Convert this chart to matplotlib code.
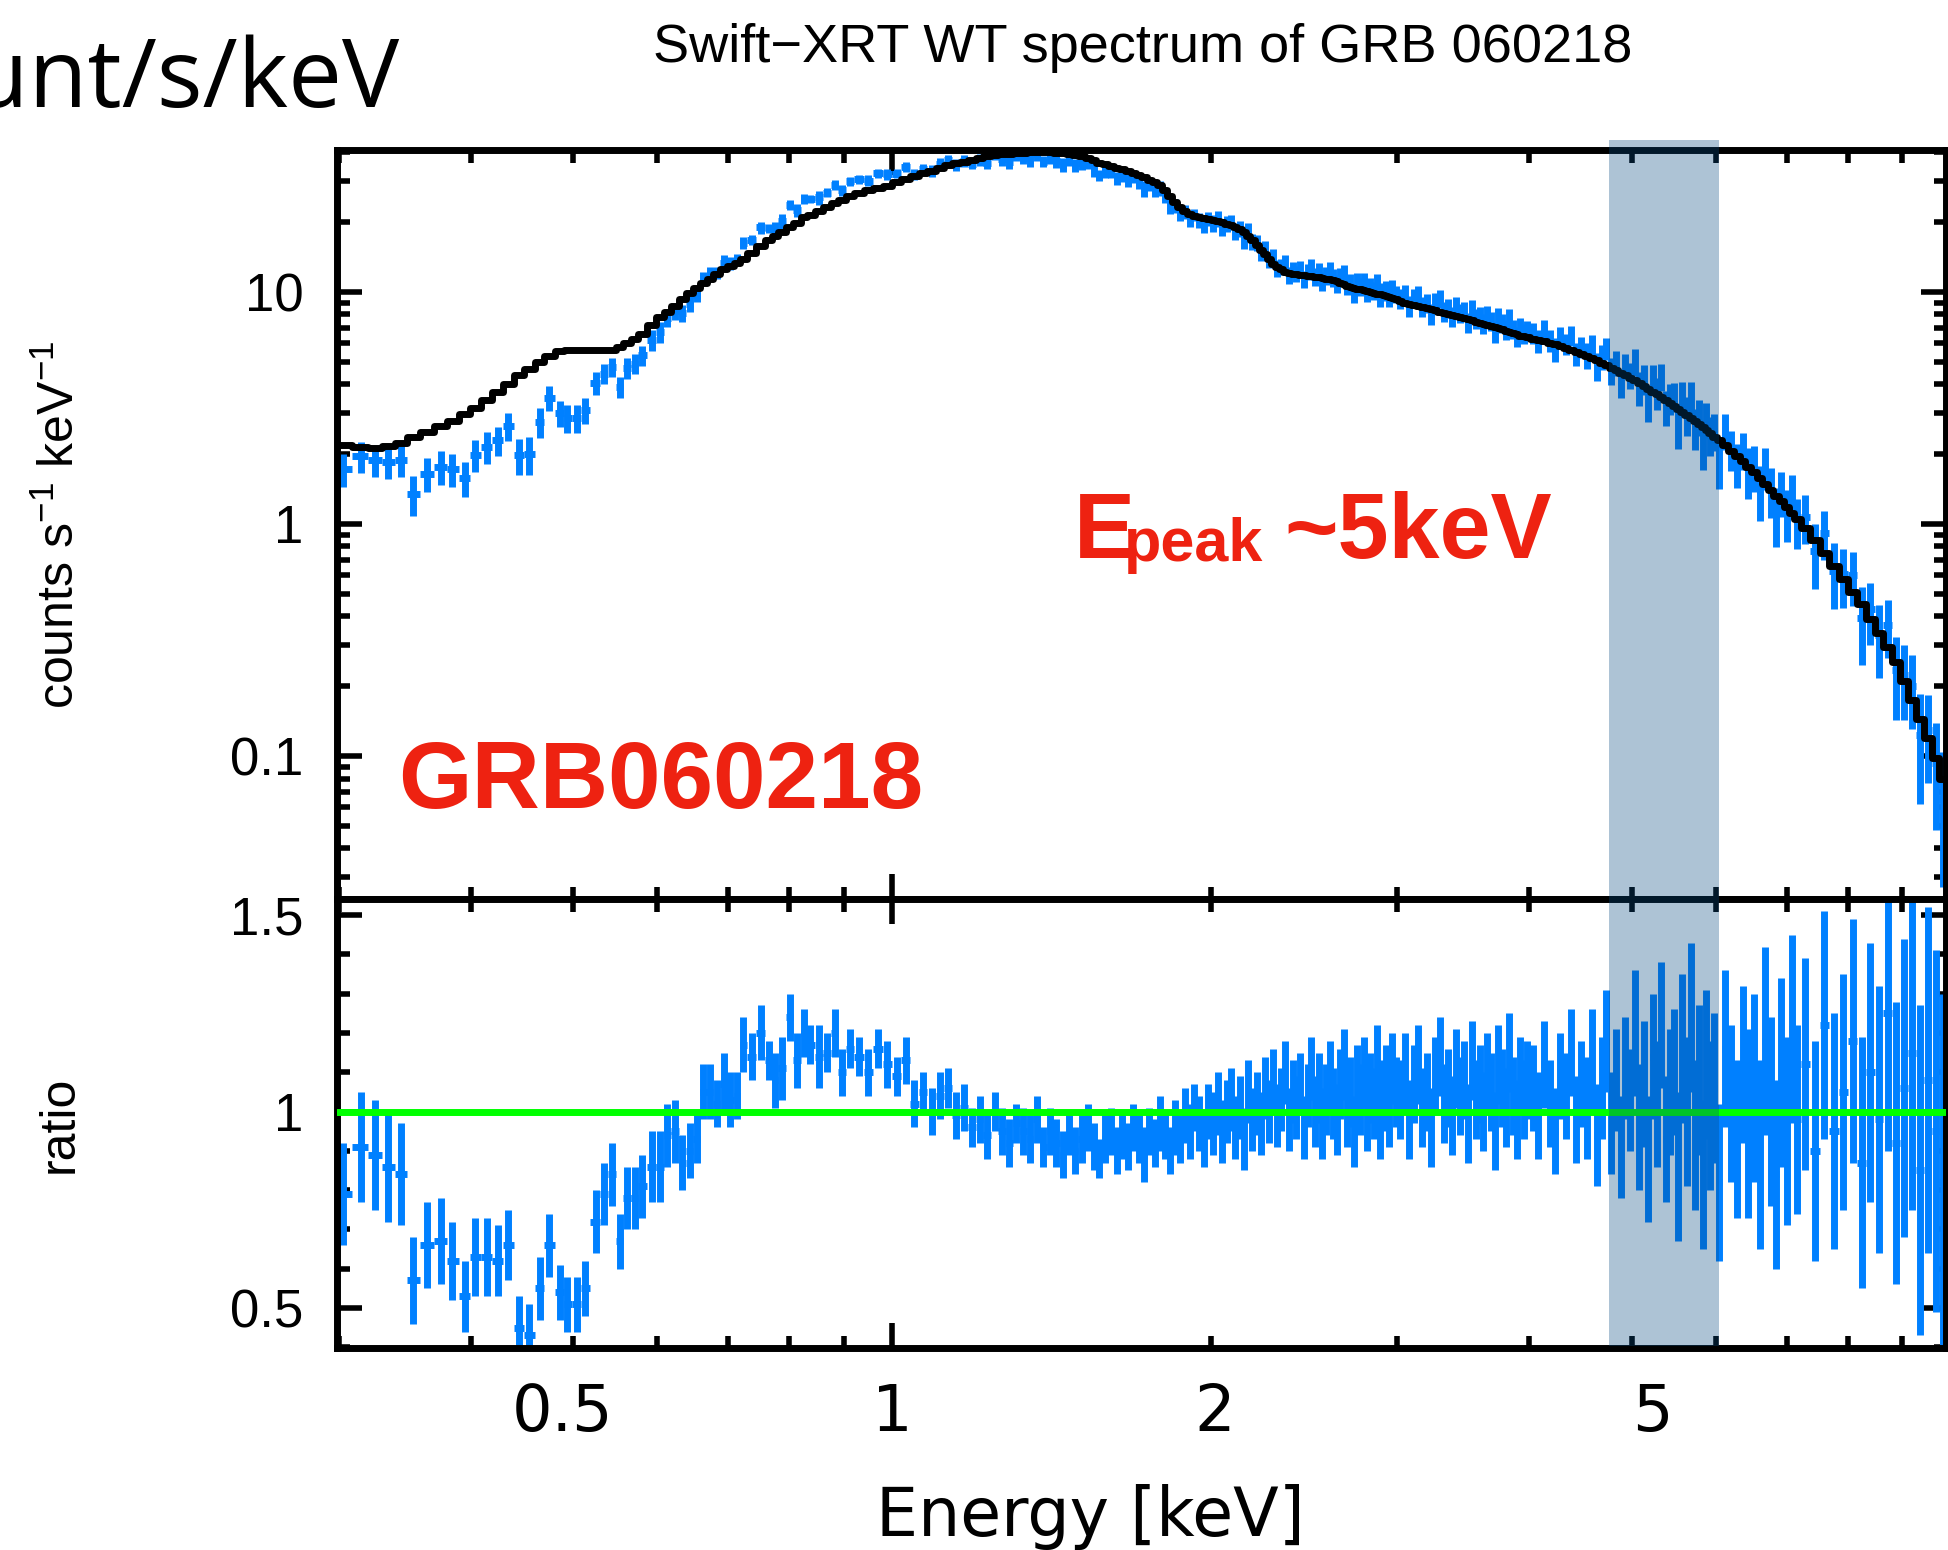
import numpy as np
import matplotlib
matplotlib.use("Agg")
import matplotlib.pyplot as plt
from matplotlib.ticker import FixedLocator, FixedFormatter, MultipleLocator, NullFormatter
from matplotlib.patches import Rectangle
from matplotlib.transforms import blended_transform_factory

plt.rcParams['font.family'] = ['Liberation Sans', 'DejaVu Sans']
plt.rcParams['mathtext.fontset'] = 'custom'
plt.rcParams['mathtext.rm'] = 'Liberation Sans'
plt.rcParams['mathtext.it'] = 'Liberation Sans:italic'
plt.rcParams['mathtext.bf'] = 'Liberation Sans:bold'

# ---------------- data ----------------
energy_kev = [
    # 0.3 - 0.92 keV
    0.303, 0.315, 0.325, 0.334, 0.344, 0.353, 0.364, 0.375, 0.384, 0.395,
    0.404, 0.414, 0.424, 0.434, 0.444, 0.454, 0.465, 0.474, 0.486, 0.493,
    0.504, 0.513, 0.525, 0.534, 0.544, 0.553, 0.562, 0.572, 0.580, 0.593,
    0.604, 0.613, 0.624, 0.633, 0.644, 0.654, 0.663, 0.673, 0.683, 0.694,
    0.703, 0.714, 0.723, 0.737, 0.752, 0.765, 0.775, 0.787, 0.801, 0.813,
    0.826, 0.837, 0.853, 0.868, 0.883, 0.897, 0.913,
    # 0.93 - 2 keV
    0.93, 0.95, 0.97, 0.99, 1.01, 1.03, 1.05, 1.07, 1.09, 1.11,
    1.13, 1.15, 1.17, 1.19, 1.21, 1.23, 1.25, 1.27, 1.29, 1.31,
    1.33, 1.35, 1.37, 1.39, 1.41, 1.43, 1.45, 1.47, 1.49, 1.51,
    1.53, 1.55, 1.57, 1.59, 1.61, 1.63, 1.65, 1.67, 1.69, 1.71,
    1.73, 1.75, 1.77, 1.79, 1.81, 1.83, 1.85, 1.87, 1.89, 1.91,
    1.93, 1.95, 1.97, 1.99,
    # 2 - 3 keV
    2.01, 2.03, 2.05, 2.07, 2.09, 2.11, 2.13, 2.15, 2.17, 2.19,
    2.21, 2.23, 2.25, 2.27, 2.29, 2.31, 2.33, 2.35, 2.37, 2.39,
    2.41, 2.43, 2.45, 2.47, 2.49, 2.51, 2.53, 2.55, 2.57, 2.59,
    2.61, 2.63, 2.65, 2.67, 2.69, 2.71, 2.73, 2.75, 2.77, 2.79,
    2.81, 2.83, 2.85, 2.87, 2.89, 2.91, 2.93, 2.95, 2.97, 2.99,
    # 3 - 4 keV
    3.02, 3.05, 3.08, 3.11, 3.14, 3.17, 3.20, 3.23, 3.26, 3.29,
    3.32, 3.35, 3.38, 3.41, 3.44, 3.47, 3.50, 3.53, 3.56, 3.59,
    3.62, 3.65, 3.68, 3.71, 3.74, 3.77, 3.80, 3.83, 3.86, 3.89,
    3.92, 3.95, 3.98,
    # 4 - 6 keV
    4.03, 4.08, 4.13, 4.18, 4.23, 4.28, 4.33, 4.38, 4.43, 4.48,
    4.53, 4.58, 4.63, 4.68, 4.73, 4.78, 4.83, 4.88, 4.93, 4.98,
    5.03, 5.08, 5.13, 5.18, 5.23, 5.28, 5.33, 5.38, 5.43, 5.48,
    5.53, 5.58, 5.63, 5.68, 5.73, 5.78, 5.83, 5.88, 5.93, 5.98,
    # 6 - 10 keV
    6.04, 6.12, 6.20, 6.28, 6.36, 6.44, 6.52, 6.60, 6.68, 6.76,
    6.84, 6.92, 7.00, 7.08, 7.16,
    7.28, 7.44, 7.60, 7.76, 7.92, 8.08, 8.24, 8.40, 8.56, 8.72,
    8.88, 9.04, 9.20, 9.36, 9.52, 9.68, 9.84,
]

model_rate = [
    2.18, 2.15, 2.13, 2.16, 2.24, 2.36, 2.50, 2.64, 2.78, 2.97,
    3.16, 3.42, 3.70, 4.00, 4.40, 4.66, 5.00, 5.30, 5.55, 5.62,
    5.63, 5.63, 5.63, 5.63, 5.63, 5.80, 6.03, 6.30, 6.60, 7.20,
    7.80, 8.20, 8.70, 9.30, 9.90, 10.4, 10.9, 11.4, 11.9, 12.5,
    12.9, 13.3, 13.9, 14.7, 15.8, 16.7, 17.4, 18.2, 19.1, 19.9,
    21.0, 21.5, 22.4, 23.3, 24.2, 25.0, 25.9,
    26.8, 27.4, 28.0, 28.7, 29.7, 30.6, 31.5, 32.4, 33.3, 34.2,
    35.1, 35.8, 36.4, 37.1, 37.9, 38.4, 38.8, 39.2, 39.5, 39.8,
    39.85, 39.9, 39.95, 40.0, 40.0, 39.8, 39.6, 39.3, 39.1, 38.5,
    37.7, 36.9, 36.1, 35.5, 34.9, 34.3, 33.8, 33.2, 32.6, 31.9,
    31.2, 30.5, 29.8, 28.8, 27.4, 25.9, 24.5, 23.3, 22.4, 21.6,
    21.3, 21.0, 20.8, 20.6,
    20.4, 20.2, 20.0, 19.7, 19.4, 19.0, 18.6, 18.1, 17.5, 16.8,
    16.0, 15.2, 14.5, 13.8, 13.2, 12.8, 12.5, 12.2, 12.05, 11.95,
    11.9, 11.85, 11.8, 11.75, 11.7, 11.65, 11.55, 11.5, 11.42, 11.36,
    11.3, 11.1, 10.95, 10.8, 10.65, 10.5, 10.4, 10.3, 10.25, 10.15,
    10.08, 10.0, 9.92, 9.83, 9.75, 9.66, 9.57, 9.48, 9.4, 9.32,
    9.1, 8.96, 8.86, 8.77, 8.68, 8.59, 8.5, 8.41, 8.32, 8.2,
    8.1, 8.02, 7.94, 7.86, 7.78, 7.7, 7.62, 7.54, 7.45, 7.37,
    7.3, 7.22, 7.14, 7.06, 6.98, 6.9, 6.82, 6.74, 6.66, 6.56,
    6.49, 6.44, 6.38,
    6.29, 6.22, 6.14, 6.05, 5.96, 5.86, 5.75, 5.64, 5.53, 5.42,
    5.31, 5.2, 5.08, 4.96, 4.84, 4.71, 4.59, 4.48, 4.37, 4.26,
    4.16, 4.05, 3.94, 3.83, 3.72, 3.62, 3.53, 3.42, 3.32, 3.23,
    3.13, 3.04, 2.95, 2.87, 2.78, 2.70, 2.62, 2.53, 2.46, 2.38,
    2.29, 2.18, 2.07, 1.96, 1.86, 1.76, 1.67, 1.58, 1.49, 1.40,
    1.32, 1.25, 1.18, 1.12, 1.05,
    0.96, 0.85, 0.75, 0.66, 0.58, 0.51, 0.45, 0.39, 0.34, 0.295,
    0.255, 0.21, 0.175, 0.145, 0.12, 0.098, 0.08,
]

ratio = [
    0.79, 0.91, 0.89, 0.86, 0.84, 0.57, 0.66, 0.67, 0.62, 0.53,
    0.63, 0.63, 0.62, 0.66, 0.45, 0.43, 0.55, 0.66, 0.54, 0.51,
    0.51, 0.55, 0.72, 0.79, 0.84, 0.67, 0.78, 0.78, 0.81, 0.86,
    0.86, 0.94, 0.95, 0.87, 0.90, 0.93, 1.05, 1.05, 1.02, 1.07,
    1.03, 1.04, 1.17, 1.14, 1.20, 1.13, 1.08, 1.11, 1.24, 1.13,
    1.20, 1.17, 1.14, 1.15, 1.20, 1.10, 1.16,
    1.14, 1.10, 1.16, 1.12, 1.09, 1.13, 1.02, 1.05, 1.00, 1.04,
    1.06, 0.99, 1.01, 0.96, 0.98, 0.94, 1.00, 0.95, 0.92, 0.97,
    0.95, 0.93, 0.98, 0.91, 0.95, 0.92, 0.89, 0.94, 0.90, 0.93,
    0.96, 0.91, 0.88, 0.93, 0.95, 0.90, 0.94, 0.91, 0.96, 0.93,
    0.89, 0.95, 0.92, 0.97, 0.94, 0.90, 0.96, 0.93, 0.99, 0.95,
    1.01, 0.97, 0.93, 1.00,
    0.97, 1.02, 0.95, 1.00, 1.03, 0.96, 1.01, 0.93, 1.05, 0.98,
    1.02, 0.97, 1.06, 1.00, 1.08, 0.99, 1.03, 1.10, 0.98, 1.05,
    1.01, 1.07, 0.96, 1.04, 1.11, 1.00, 1.06, 0.97, 1.03, 1.09,
    1.02, 0.98, 1.07, 1.12, 1.00, 1.05, 0.95, 1.08, 1.03, 1.10,
    0.99, 1.06, 1.02, 1.13, 0.97, 1.04, 1.08, 1.00, 1.11, 1.05,
    1.03, 1.10, 0.98, 1.07, 1.12, 1.01, 1.05, 0.96, 1.09, 1.14,
    1.02, 1.06, 0.99, 1.11, 1.04, 1.08, 0.97, 1.13, 1.03, 1.07,
    1.00, 1.10, 1.05, 0.95, 1.12, 1.06, 1.01, 1.15, 1.04, 0.98,
    1.09, 1.03, 1.08,
    1.06, 0.99, 1.12, 1.02, 0.95, 1.09, 1.04, 1.15, 0.98, 1.07,
    1.01, 1.13, 0.94, 1.06, 1.18, 0.97, 1.08, 0.91, 1.11, 1.03,
    1.20, 0.96, 1.07, 0.88, 1.14, 1.02, 1.22, 0.93, 1.05, 1.10,
    0.86, 1.16, 1.00, 1.24, 0.94, 1.08, 0.84, 1.12, 0.99, 1.06,
    0.82, 1.16, 1.02, 0.93, 1.12, 0.97, 1.06, 0.89, 1.18, 1.00,
    0.84, 1.10, 0.95, 1.21, 0.98,
    1.12, 0.90, 1.22, 0.95, 1.05, 1.18, 0.87, 1.10, 0.98, 1.25,
    0.92, 1.06, 1.15, 0.85, 1.08, 0.95, 0.82,
]

ratio_err = [
    0.13, 0.14, 0.14, 0.14, 0.13, 0.11, 0.11, 0.11, 0.10, 0.09,
    0.10, 0.10, 0.09, 0.09, 0.08, 0.08, 0.08, 0.08, 0.07, 0.07,
    0.07, 0.07, 0.08, 0.08, 0.08, 0.07, 0.08, 0.08, 0.08, 0.09,
    0.09, 0.08, 0.08, 0.07, 0.07, 0.06, 0.07, 0.07, 0.06, 0.08,
    0.07, 0.06, 0.07, 0.06, 0.07, 0.05, 0.07, 0.08, 0.06, 0.07,
    0.06, 0.05, 0.08, 0.05, 0.06, 0.06, 0.05,
    0.05, 0.06, 0.05, 0.06, 0.05, 0.06, 0.06, 0.05, 0.06, 0.06,
    0.05, 0.06, 0.06, 0.05, 0.06, 0.06, 0.05, 0.06, 0.06, 0.05,
    0.06, 0.06, 0.06, 0.05, 0.06, 0.06, 0.06, 0.05, 0.06, 0.06,
    0.06, 0.06, 0.05, 0.06, 0.06, 0.06, 0.06, 0.06, 0.06, 0.06,
    0.07, 0.06, 0.06, 0.07, 0.06, 0.06, 0.07, 0.06, 0.07, 0.07,
    0.06, 0.07, 0.07, 0.07,
    0.08, 0.08, 0.08, 0.08, 0.08, 0.08, 0.08, 0.08, 0.08, 0.08,
    0.08, 0.08, 0.08, 0.08, 0.08, 0.08, 0.08, 0.08, 0.08, 0.08,
    0.08, 0.08, 0.08, 0.08, 0.08, 0.09, 0.09, 0.09, 0.09, 0.09,
    0.09, 0.09, 0.09, 0.09, 0.09, 0.09, 0.09, 0.09, 0.09, 0.09,
    0.09, 0.09, 0.09, 0.09, 0.09, 0.09, 0.09, 0.09, 0.09, 0.09,
    0.10, 0.10, 0.10, 0.10, 0.10, 0.10, 0.10, 0.10, 0.10, 0.10,
    0.10, 0.10, 0.10, 0.10, 0.10, 0.10, 0.10, 0.10, 0.10, 0.10,
    0.10, 0.10, 0.10, 0.10, 0.10, 0.10, 0.10, 0.10, 0.10, 0.10,
    0.10, 0.10, 0.10,
    0.11, 0.11, 0.11, 0.11, 0.11, 0.11, 0.11, 0.11, 0.11, 0.11,
    0.13, 0.13, 0.13, 0.13, 0.13, 0.13, 0.13, 0.13, 0.13, 0.13,
    0.16, 0.16, 0.16, 0.16, 0.16, 0.16, 0.16, 0.16, 0.16, 0.16,
    0.19, 0.19, 0.19, 0.19, 0.19, 0.19, 0.19, 0.19, 0.19, 0.19,
    0.20, 0.20, 0.20, 0.20, 0.20, 0.24, 0.24, 0.24, 0.24, 0.24,
    0.24, 0.24, 0.24, 0.24, 0.24,
    0.27, 0.28, 0.29, 0.30, 0.30, 0.31, 0.32, 0.33, 0.34, 0.35,
    0.36, 0.38, 0.40, 0.42, 0.44, 0.46, 0.48,
]

spec_ytick_values = [0.1, 1, 10]
spec_ytick_labels = ['0.1', '1', '10']
ratio_ytick_values = [0.5, 1.0, 1.5]
ratio_ytick_labels = ['0.5', '1', '1.5']
x_minor_values = [0.3, 0.4, 0.5, 0.6, 0.7, 0.8, 0.9, 2, 3, 4, 5, 6, 7, 8, 9]
x_tick_labels = ['0.5', '1', '2', '5']
epeak_band_kev = (4.76, 6.04)

# ---------------- styling ----------------
BLUE = '#0080ff'
RED = '#ee2211'
GREEN = '#00ff00'
BAND = '#064982'
SANS_OPEN = ['Open Sans', 'DejaVu Sans']
SANS_WIDE = ['DejaVu Sans']
x_label_px = [563, 892, 1215, 1652]   # label centres (layout only)

n = min(len(energy_kev), len(model_rate), len(ratio), len(ratio_err))
E = np.array(energy_kev[:n])
M = np.array(model_rate[:n])
R = np.array(ratio[:n])
RE = np.array(ratio_err[:n])
mids = np.sqrt(E[:-1] * E[1:])
lo = np.concatenate([[E[0] ** 2 / mids[0]], mids])
hi = np.concatenate([mids, [E[-1] ** 2 / mids[-1]]])
xerr = np.vstack([E - lo, hi - E])
counts = M * R
counts_err = M * RE

W, H = 1948, 1550
fig = plt.figure(figsize=(W / 100, H / 100), dpi=100)


def fx(px):
    return px / W


def fy(py):
    return 1 - py / H


L, Rgt = 337, 1946
ax1 = fig.add_axes([fx(L), fy(899), fx(Rgt) - fx(L), fy(150) - fy(899)])
ax2 = fig.add_axes([fx(L), fy(1348), fx(Rgt) - fx(L), fy(899) - fy(1348)])

for ax in (ax1, ax2):
    ax.set_xscale('log')
    ax.set_xlim(0.299, 9.9)
    ax.xaxis.set_major_locator(FixedLocator([1.0]))
    ax.xaxis.set_minor_locator(FixedLocator(x_minor_values))
    ax.xaxis.set_major_formatter(NullFormatter())
    ax.xaxis.set_minor_formatter(NullFormatter())
    ax.tick_params(which='both', direction='in', top=True, bottom=True,
                   left=True, right=True, width=4, color='black')
    ax.tick_params(which='major', length=18)
    ax.tick_params(which='minor', length=9)
    for sp in ax.spines.values():
        sp.set_linewidth(5)

# upper panel
ax1.set_yscale('log')
ax1.set_ylim(0.0242, 40.9)
ax1.yaxis.set_major_locator(FixedLocator(spec_ytick_values))
ax1.yaxis.set_major_formatter(FixedFormatter(spec_ytick_labels))
ax1.yaxis.set_minor_locator(FixedLocator([k * 10.0 ** d for d in (-2, -1, 0, 1) for k in range(2, 10)]))
ax1.yaxis.set_minor_formatter(NullFormatter())
ax1.tick_params(axis='y', which='major', labelsize=38, pad=24)

ax1.errorbar(E, counts, yerr=counts_err, xerr=xerr, fmt='none', ecolor=BLUE,
             elinewidth=5, capsize=0, zorder=2)
ax1.plot(E, M, drawstyle='steps-mid', color='black', lw=5, zorder=3)

# lower panel
ax2.set_ylim(0.398, 1.541)
ax2.yaxis.set_major_locator(FixedLocator(ratio_ytick_values))
ax2.yaxis.set_major_formatter(FixedFormatter(ratio_ytick_labels))
ax2.yaxis.set_minor_locator(MultipleLocator(0.1))
ax2.tick_params(axis='y', which='major', labelsize=38, pad=24)

ax2.errorbar(E, R, yerr=RE, xerr=xerr, fmt='none', ecolor=BLUE,
             elinewidth=5, capsize=0, zorder=2)
ax2.axhline(1.0, color=GREEN, lw=5, zorder=4)

# energy tick labels (hand-placed in the reference)
for lab, px in zip(x_tick_labels, x_label_px):
    fig.text(fx(px), fy(1431), lab, ha='center', va='baseline',
             fontsize=46, family=SANS_WIDE)

# shaded Epeak band across both panels
band = Rectangle((epeak_band_kev[0], fy(1346)), epeak_band_kev[1] - epeak_band_kev[0],
                 fy(140) - fy(1346),
                 transform=blended_transform_factory(ax1.transData, fig.transFigure),
                 facecolor=BAND, alpha=0.33, edgecolor='none', zorder=10)
fig.add_artist(band)

# texts
fig.text(fx(1143), fy(62), 'Swift\u2212XRT WT spectrum of GRB 060218',
         ha='center', va='baseline', fontsize=39)
fig.text(fx(400), fy(107), 'count/s/keV', ha='right', va='baseline',
         fontsize=69, family=SANS_OPEN)
fig.text(fx(60), fy(524.5), r'counts s$^{-1}$ keV$^{-1}$', rotation=90,
         ha='center', va='center', fontsize=36)
fig.text(fx(60), fy(1124), 'ratio', rotation=90, ha='center', va='center', fontsize=36)
fig.text(fx(1090), fy(1536), 'Energy [keV]', ha='center', va='baseline',
         fontsize=48, family=SANS_WIDE)
fig.text(fx(398), fy(808), 'GRB060218', ha='left', va='baseline',
         fontsize=68, weight='bold', color=RED)
fig.text(fx(1074), fy(558), 'E', ha='left', va='baseline', fontsize=66,
         weight='bold', color=RED)
fig.text(fx(1124), fy(561), 'peak', ha='left', va='baseline', fontsize=44,
         weight='bold', color=RED)
fig.text(fx(1284), fy(558), '~5keV', ha='left', va='baseline', fontsize=66,
         weight='bold', color=RED)

fig.savefig('out.png', dpi=100)
